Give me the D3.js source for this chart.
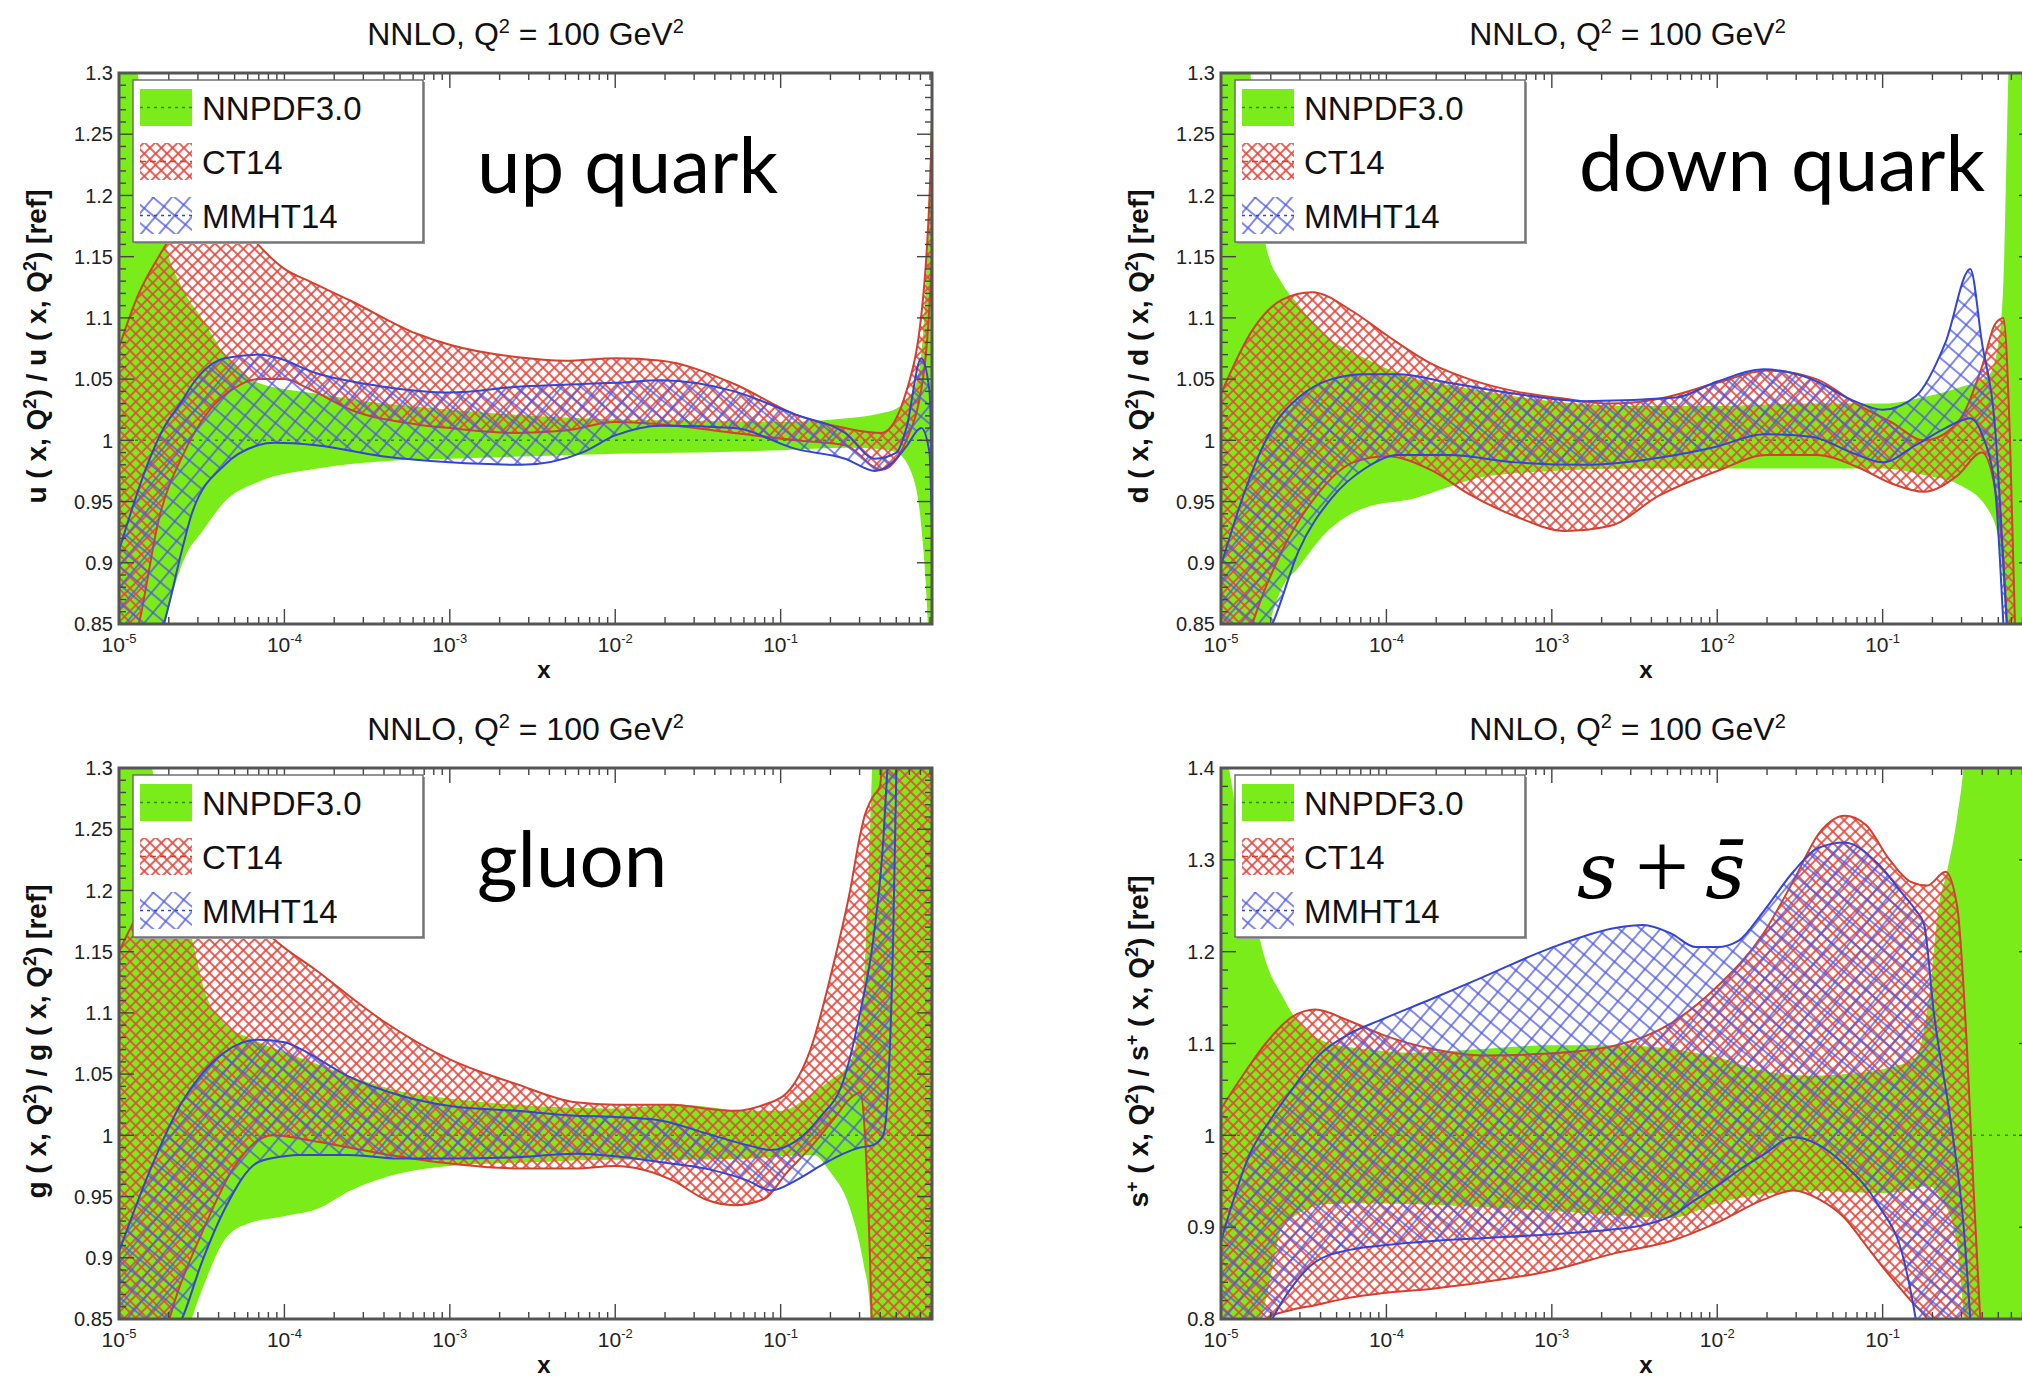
<!DOCTYPE html>
<html>
<head>
<meta charset="utf-8">
<title>NNLO PDF ratios, Q2 = 100 GeV2</title>
<script src="https://d3js.org/d3.v7.min.js"></script>
<style>
  body { margin: 0; background: #fff; }
  text { font-family: "Liberation Sans", Arial, sans-serif; white-space: pre; }
  .ytick { font-size: 20px; fill: #222; }
  .xtick { font-size: 21px; fill: #222; }
  .title { font-size: 32px; fill: #111; }
  .axis-title { font-size: 24px; font-weight: bold; fill: #111; }
  .ylab { font-size: 28px; font-weight: bold; fill: #111; }
  .legend-text { font-size: 33px; fill: #111; }
  .big { font-family: Lato, "Open Sans", sans-serif; font-size: 78px; fill: #000; }
</style>
</head>
<body>
<svg width="2022" height="1377"></svg>
<script>

// rows: [log10(x), lower edge, upper edge] of each uncertainty band

// ---- up quark
var upNNPDF = [
  [-5.00, 0.60, 1.45], [-4.85, 0.74, 1.26], [-4.72, 0.85, 1.16], [-4.60, 0.905, 1.12],
  [-4.50, 0.925, 1.10], [-4.36, 0.95, 1.07], [-4.16, 0.966, 1.047], [-3.80, 0.977, 1.038],
  [-3.40, 0.983, 1.030], [-3.00, 0.985, 1.025], [-2.50, 0.987, 1.020], [-2.00, 0.989, 1.017],
  [-1.50, 0.990, 1.016], [-1.00, 0.992, 1.015], [-0.60, 0.994, 1.018], [-0.40, 0.993, 1.022],
  [-0.30, 0.990, 1.026], [-0.20, 0.970, 1.040], [-0.15, 0.930, 1.070], [-0.11, 0.850, 1.170],
  [-0.085, 0.75, 1.30], [-0.07, 0.65, 1.40]
];
var upCT14 = [
  [-5.00, 0.80, 1.076], [-4.88, 0.85, 1.12], [-4.76, 0.935, 1.15], [-4.61, 0.989, 1.18],
  [-4.45, 1.025, 1.195], [-4.31, 1.042, 1.185], [-4.16, 1.050, 1.16], [-4.00, 1.050, 1.14],
  [-3.85, 1.042, 1.13], [-3.60, 1.025, 1.114], [-3.20, 1.013, 1.087], [-3.00, 1.010, 1.078],
  [-2.60, 1.006, 1.068], [-2.30, 1.008, 1.065], [-2.00, 1.015, 1.067], [-1.72, 1.013, 1.065],
  [-1.28, 1.006, 1.046], [-0.91, 1.000, 1.021], [-0.61, 0.996, 1.010], [-0.39, 0.976, 1.006],
  [-0.24, 1.000, 1.040], [-0.13, 1.060, 1.130], [-0.085, 1.15, 1.26], [-0.07, 1.20, 1.35]
];
var upMMHT = [
  [-5.00, 0.78, 0.91], [-4.82, 0.82, 0.983], [-4.73, 0.85, 1.01], [-4.62, 0.91, 1.032],
  [-4.56, 0.94, 1.045], [-4.36, 0.98, 1.067], [-4.16, 0.996, 1.07], [-4.06, 0.998, 1.068],
  [-3.81, 0.996, 1.055], [-3.41, 0.987, 1.044], [-3.00, 0.982, 1.039], [-2.57, 0.980, 1.044],
  [-2.20, 0.990, 1.046], [-2.00, 1.004, 1.047], [-1.72, 1.012, 1.049], [-1.28, 1.010, 1.040],
  [-0.91, 0.993, 1.021], [-0.61, 0.985, 1.006], [-0.43, 0.975, 0.985], [-0.30, 0.985, 0.990],
  [-0.24, 0.995, 1.010], [-0.15, 1.010, 1.067], [-0.10, 0.990, 1.040], [-0.085, 0.93, 0.97],
  [-0.07, 0.88, 0.92]
];

// ---- down quark
var downNNPDF = [
  [-5.00, 0.65, 1.60], [-4.85, 0.77, 1.35], [-4.73, 0.84, 1.16], [-4.63, 0.88, 1.128],
  [-4.54, 0.895, 1.112], [-4.37, 0.924, 1.086], [-4.13, 0.945, 1.067], [-3.82, 0.953, 1.050],
  [-3.62, 0.962, 1.045], [-3.42, 0.970, 1.040], [-3.00, 0.975, 1.032], [-2.50, 0.977, 1.028],
  [-2.00, 0.977, 1.028], [-1.50, 0.977, 1.030], [-1.00, 0.977, 1.030], [-0.73, 0.971, 1.036],
  [-0.54, 0.964, 1.043], [-0.36, 0.943, 1.053], [-0.30, 0.920, 1.080], [-0.27, 0.880, 1.130],
  [-0.24, 0.820, 1.30], [-0.20, 0.70, 1.50], [-0.12, 0.55, 1.80], [-0.04, 0.45, 2.00]
];
var downCT14 = [
  [-5.00, 0.75, 1.038], [-4.81, 0.85, 1.09], [-4.63, 0.91, 1.115], [-4.45, 0.95, 1.121],
  [-4.20, 0.982, 1.105], [-4.00, 0.987, 1.086], [-3.72, 0.975, 1.062], [-3.50, 0.956, 1.050],
  [-3.22, 0.938, 1.040], [-2.92, 0.926, 1.034], [-2.65, 0.930, 1.030], [-2.35, 0.955, 1.034],
  [-2.00, 0.975, 1.047], [-1.70, 0.988, 1.057], [-1.40, 0.988, 1.050], [-1.15, 0.978, 1.029],
  [-0.95, 0.965, 1.015], [-0.75, 0.958, 1.000], [-0.55, 0.971, 1.014], [-0.40, 0.990, 1.060],
  [-0.32, 0.960, 1.095], [-0.27, 0.900, 1.100], [-0.23, 0.800, 1.000], [-0.20, 0.70, 0.85]
];
var downMMHT = [
  [-5.00, 0.78, 0.898], [-4.83, 0.82, 0.968], [-4.69, 0.85, 1.01], [-4.53, 0.91, 1.035],
  [-4.33, 0.953, 1.050], [-4.13, 0.977, 1.054], [-3.93, 0.988, 1.054], [-3.62, 0.988, 1.047],
  [-3.22, 0.982, 1.038], [-2.81, 0.980, 1.032], [-2.25, 0.988, 1.035], [-2.00, 0.995, 1.048],
  [-1.72, 1.005, 1.058], [-1.43, 1.003, 1.050], [-1.17, 0.989, 1.032], [-1.00, 0.982, 1.025],
  [-0.80, 0.996, 1.036], [-0.62, 1.010, 1.080], [-0.47, 1.018, 1.140], [-0.40, 1.005, 1.080],
  [-0.32, 0.960, 1.010], [-0.27, 0.850, 0.900], [-0.23, 0.75, 0.80]
];

// ---- gluon
var gluonNNPDF = [
  [-5.00, 0.60, 1.50], [-4.80, 0.75, 1.30], [-4.62, 0.82, 1.19], [-4.56, 0.85, 1.161],
  [-4.48, 0.88, 1.117], [-4.36, 0.915, 1.091], [-4.22, 0.928, 1.080], [-4.00, 0.934, 1.068],
  [-3.80, 0.940, 1.058], [-3.60, 0.955, 1.048], [-3.30, 0.969, 1.036], [-3.00, 0.975, 1.030],
  [-2.50, 0.978, 1.024], [-2.00, 0.980, 1.022], [-1.60, 0.980, 1.025], [-1.20, 0.981, 1.020],
  [-1.00, 0.983, 1.020], [-0.80, 0.984, 1.035], [-0.70, 0.970, 1.045], [-0.58, 0.940, 1.060],
  [-0.50, 0.896, 1.120], [-0.46, 0.860, 1.250], [-0.44, 0.800, 1.330], [-0.40, 0.65, 1.50],
  [-0.30, 0.50, 1.70], [-0.15, 0.40, 1.90], [-0.04, 0.35, 2.00]
];
var gluonCT14 = [
  [-5.00, 0.72, 1.15], [-4.80, 0.80, 1.20], [-4.65, 0.87, 1.22], [-4.50, 0.92, 1.22],
  [-4.30, 0.975, 1.195], [-4.07, 1.000, 1.161], [-3.81, 0.995, 1.135], [-3.41, 0.985, 1.094],
  [-3.00, 0.977, 1.062], [-2.60, 0.973, 1.042], [-2.24, 0.973, 1.027], [-2.00, 0.975, 1.025],
  [-1.65, 0.963, 1.025], [-1.46, 0.948, 1.022], [-1.28, 0.943, 1.020], [-1.10, 0.948, 1.025],
  [-0.96, 0.970, 1.035], [-0.82, 0.990, 1.070], [-0.68, 1.013, 1.140], [-0.58, 1.030, 1.200],
  [-0.52, 1.035, 1.245], [-0.49, 1.000, 1.262], [-0.46, 0.900, 1.272], [-0.44, 0.800, 1.277],
  [-0.40, 0.60, 1.285], [-0.37, 0.50, 1.35], [-0.33, 0.45, 1.50], [-0.20, 0.40, 1.70],
  [-0.04, 0.35, 2.00]
];
var gluonMMHT = [
  [-5.00, 0.80, 0.905], [-4.82, 0.82, 0.969], [-4.62, 0.85, 1.027], [-4.50, 0.896, 1.050],
  [-4.36, 0.940, 1.068], [-4.16, 0.978, 1.078], [-4.00, 0.983, 1.076], [-3.91, 0.984, 1.071],
  [-3.61, 0.984, 1.048], [-3.31, 0.981, 1.033], [-3.00, 0.981, 1.024], [-2.60, 0.982, 1.020],
  [-2.24, 0.985, 1.016], [-2.00, 0.983, 1.015], [-1.72, 0.978, 1.012], [-1.46, 0.973, 1.002],
  [-1.20, 0.963, 0.992], [-1.06, 0.955, 0.988], [-0.91, 0.963, 0.995], [-0.76, 0.975, 1.015],
  [-0.62, 0.985, 1.045], [-0.52, 0.990, 1.100], [-0.44, 0.992, 1.160], [-0.38, 1.000, 1.240],
  [-0.35, 1.040, 1.310], [-0.32, 1.160, 1.40], [-0.30, 1.30, 1.50]
];

// ---- s + sbar
var strangeNNPDF = [
  [-5.00, 0.60, 1.45], [-4.92, 0.65, 1.366], [-4.83, 0.75, 1.269], [-4.73, 0.82, 1.19],
  [-4.63, 0.90, 1.152], [-4.57, 0.91, 1.133], [-4.37, 0.925, 1.102], [-4.13, 0.926, 1.094],
  [-3.82, 0.925, 1.090], [-3.42, 0.922, 1.094], [-3.02, 0.918, 1.098], [-2.61, 0.913, 1.098],
  [-2.28, 0.910, 1.094], [-2.00, 0.926, 1.085], [-1.72, 0.936, 1.070], [-1.43, 0.940, 1.065],
  [-1.20, 0.938, 1.067], [-1.00, 0.937, 1.072], [-0.80, 0.942, 1.085], [-0.72, 0.945, 1.150],
  [-0.66, 0.935, 1.250], [-0.61, 0.920, 1.288], [-0.55, 0.880, 1.346], [-0.51, 0.80, 1.404],
  [-0.45, 0.60, 1.60], [-0.30, 0.45, 1.80], [-0.04, 0.35, 2.00]
];
var strangeCT14 = [
  [-5.00, 0.70, 1.029], [-4.85, 0.76, 1.07], [-4.73, 0.80, 1.10], [-4.57, 0.81, 1.129],
  [-4.43, 0.815, 1.137], [-4.23, 0.823, 1.125], [-4.03, 0.828, 1.110], [-3.72, 0.833, 1.094],
  [-3.42, 0.840, 1.087], [-3.02, 0.852, 1.089], [-2.61, 0.872, 1.098], [-2.28, 0.885, 1.122],
  [-2.00, 0.905, 1.162], [-1.72, 0.930, 1.220], [-1.54, 0.940, 1.277], [-1.38, 0.930, 1.330],
  [-1.23, 0.910, 1.348], [-1.10, 0.880, 1.338], [-0.97, 0.850, 1.303], [-0.83, 0.820, 1.276],
  [-0.73, 0.800, 1.272], [-0.62, 0.760, 1.287], [-0.55, 0.70, 1.250], [-0.49, 0.65, 1.094],
  [-0.45, 0.60, 0.940], [-0.41, 0.55, 0.800]
];
var strangeMMHT = [
  [-5.00, 0.70, 0.885], [-4.83, 0.74, 0.978], [-4.69, 0.80, 1.020], [-4.55, 0.84, 1.055],
  [-4.43, 0.862, 1.083], [-4.23, 0.875, 1.110], [-4.03, 0.880, 1.126], [-3.72, 0.885, 1.149],
  [-3.42, 0.888, 1.172], [-3.02, 0.892, 1.203], [-2.61, 0.898, 1.226], [-2.45, 0.902, 1.229],
  [-2.28, 0.912, 1.220], [-2.13, 0.930, 1.205], [-2.00, 0.945, 1.205], [-1.87, 0.962, 1.212],
  [-1.72, 0.979, 1.244], [-1.54, 0.998, 1.287], [-1.39, 0.990, 1.313], [-1.23, 0.968, 1.319],
  [-1.03, 0.925, 1.296], [-0.87, 0.863, 1.261], [-0.80, 0.800, 1.245], [-0.75, 0.74, 1.230],
  [-0.69, 0.68, 1.133], [-0.59, 0.60, 1.017], [-0.51, 0.55, 0.900], [-0.47, 0.50, 0.800]
];

// reference set is NNPDF3.0, so its central ratio is 1
var refRatio = 1;

// tick labels
var yTicksQuark = [0.85, 0.9, 0.95, 1, 1.05, 1.1, 1.15, 1.2, 1.25, 1.3];
var yTicksStrange = [0.8, 0.9, 1, 1.1, 1.2, 1.3, 1.4];
var xTickExps = [-5, -4, -3, -2, -1];
var legendNames = ["NNPDF3.0", "CT14", "MMHT14"];

var GREEN = "#7aec1a", GREEN_DARK = "#2f8c18",
    RED = "#e5483e", RED_LINE = "#d2402f",
    BLUE = "#4b56e6", BLUE_LINE = "#3444d4";

var svg = d3.select("svg");
var PW = 813, PH = 551;
var X_MAX = Math.pow(10, -0.085);

var defs = svg.append("defs");

var ctPat = defs.append("pattern").attr("id", "ct14Hatch")
    .attr("patternUnits", "userSpaceOnUse").attr("width", 8).attr("height", 8)
    .attr("patternTransform", "rotate(45)");
ctPat.append("line").attr("x1", 0).attr("y1", 4).attr("x2", 8).attr("y2", 4)
    .attr("stroke", RED).attr("stroke-width", 1.7);
ctPat.append("line").attr("x1", 4).attr("y1", 0).attr("x2", 4).attr("y2", 8)
    .attr("stroke", RED).attr("stroke-width", 1.7);

var mmPat = defs.append("pattern").attr("id", "mmhtHatch")
    .attr("patternUnits", "userSpaceOnUse").attr("width", 14).attr("height", 14)
    .attr("patternTransform", "rotate(40)");
mmPat.append("line").attr("x1", 0).attr("y1", 7).attr("x2", 14).attr("y2", 7)
    .attr("stroke", BLUE).attr("stroke-width", 1.4);
mmPat.append("line").attr("x1", 7).attr("y1", 0).attr("x2", 7).attr("y2", 14)
    .attr("stroke", BLUE).attr("stroke-width", 1.4);

// text with superscripts: parts = [[string, isSup], ...]
function rich(sel, parts, supSize, rise) {
    var up = false;
    parts.forEach(function(p) {
        var t = sel.append("tspan").text(p[0]);
        if (p[1] && !up) t.attr("dy", -rise);
        if (!p[1] && up) t.attr("dy", rise);
        if (p[1]) t.style("font-size", supSize + "px");
        up = !!p[1];
    });
}

function ylabelParts(sym, plus) {
    var s = plus ? [[sym, 0], ["+", 1]] : [[sym, 0]];
    return s.concat([[" ( x, Q", 0], ["2", 1], [") / ", 0]], s,
                    [[" ( x, Q", 0], ["2", 1], [") [ref]", 0]]);
}

var panels = [
    {x0: 119, y0: 73, bands: [upNNPDF, upCT14, upMMHT], yDomain: [0.85, 1.3],
     yTicks: yTicksQuark, minor: 0.01, sym: "u", plus: false, label: "up quark", ly: 120},
    {x0: 1221, y0: 73, bands: [downNNPDF, downCT14, downMMHT], yDomain: [0.85, 1.3],
     yTicks: yTicksQuark, minor: 0.01, sym: "d", plus: false, label: "down quark", ly: 118},
    {x0: 119, y0: 768, bands: [gluonNNPDF, gluonCT14, gluonMMHT], yDomain: [0.85, 1.3],
     yTicks: yTicksQuark, minor: 0.01, sym: "g", plus: false, label: "gluon", ly: 119},
    {x0: 1221, y0: 768, bands: [strangeNNPDF, strangeCT14, strangeMMHT], yDomain: [0.8, 1.4],
     yTicks: yTicksStrange, minor: 0.02, sym: "s", plus: true, label: null, ly: 130}
];

panels.forEach(function(p, idx) {
    var x = d3.scaleLog().domain([1e-5, X_MAX]).range([p.x0, p.x0 + PW]);
    var y = d3.scaleLinear().domain(p.yDomain).range([p.y0 + PH, p.y0]);
    var g = svg.append("g");

    defs.append("clipPath").attr("id", "clip" + idx).append("rect")
        .attr("x", p.x0).attr("y", p.y0).attr("width", PW).attr("height", PH);
    var plot = g.append("g").attr("clip-path", "url(#clip" + idx + ")");

    var px = function(d) { return x(Math.pow(10, d[0])); };
    var area = d3.area().x(px).y0(function(d) { return y(d[1]); })
        .y1(function(d) { return y(d[2]); }).curve(d3.curveMonotoneX);
    var lo = d3.line().x(px).y(function(d) { return y(d[1]); }).curve(d3.curveMonotoneX);
    var hi = d3.line().x(px).y(function(d) { return y(d[2]); }).curve(d3.curveMonotoneX);

    // NNPDF3.0: solid band
    plot.append("path").datum(p.bands[0]).attr("d", area).attr("fill", GREEN);
    plot.append("line")
        .attr("x1", x(1e-5)).attr("x2", x(X_MAX))
        .attr("y1", y(refRatio)).attr("y2", y(refRatio))
        .attr("stroke", GREEN_DARK).attr("stroke-width", 1.5).attr("stroke-dasharray", "3,5");

    // CT14 and MMHT14: hatched bands with edges
    [[p.bands[1], "ct14Hatch", RED_LINE], [p.bands[2], "mmhtHatch", BLUE_LINE]].forEach(function(b) {
        plot.append("path").datum(b[0]).attr("d", area).attr("fill", "url(#" + b[1] + ")");
        plot.append("path").datum(b[0]).attr("d", lo).attr("fill", "none")
            .attr("stroke", b[2]).attr("stroke-width", 2);
        plot.append("path").datum(b[0]).attr("d", hi).attr("fill", "none")
            .attr("stroke", b[2]).attr("stroke-width", 2);
    });

    // frame and inner ticks
    var x1 = p.x0 + PW, y1 = p.y0 + PH;
    var ticks = g.append("g").attr("stroke", "#444").attr("stroke-width", 1.4);
    x.ticks().filter(function(t) { return t >= 1e-5 && t <= X_MAX; }).forEach(function(t) {
        var lg = Math.log10(t);
        var len = Math.abs(lg - Math.round(lg)) < 1e-6 ? 15 : 7;
        ticks.append("line").attr("x1", x(t)).attr("x2", x(t)).attr("y1", y1).attr("y2", y1 - len);
        ticks.append("line").attr("x1", x(t)).attr("x2", x(t)).attr("y1", p.y0).attr("y2", p.y0 + len);
    });
    d3.range(p.yDomain[0], p.yDomain[1] + 1e-9, p.minor).forEach(function(v) {
        var major = p.yTicks.some(function(t) { return Math.abs(t - v) < 1e-6; });
        var len = major ? 15 : 7;
        ticks.append("line").attr("x1", p.x0).attr("x2", p.x0 + len).attr("y1", y(v)).attr("y2", y(v));
        ticks.append("line").attr("x1", x1).attr("x2", x1 - len).attr("y1", y(v)).attr("y2", y(v));
    });
    g.append("rect").attr("x", p.x0).attr("y", p.y0).attr("width", PW).attr("height", PH)
        .attr("fill", "none").attr("stroke", "#555").attr("stroke-width", 3);

    // tick labels
    p.yTicks.forEach(function(v) {
        g.append("text").attr("class", "ytick").attr("x", p.x0 - 6).attr("y", y(v))
            .attr("dy", "0.36em").attr("text-anchor", "end").text(String(+v.toFixed(2)));
    });
    xTickExps.forEach(function(e) {
        var t = g.append("text").attr("class", "xtick").attr("x", x(Math.pow(10, e)))
            .attr("y", y1 + 28).attr("text-anchor", "middle");
        rich(t, [["10", 0], [String(e), 1]], 13, 9);
    });

    // titles
    var title = g.append("text").attr("class", "title")
        .attr("x", p.x0 + PW / 2).attr("y", p.y0 - 28).attr("text-anchor", "middle");
    rich(title, [["NNLO, Q", 0], ["2", 1], [" = 100 GeV", 0], ["2", 1]], 20, 12);

    g.append("text").attr("class", "axis-title").attr("x", p.x0 + 425).attr("y", y1 + 54)
        .attr("text-anchor", "middle").text("x");

    var yl = g.append("text").attr("class", "ylab").attr("text-anchor", "middle")
        .attr("transform", "translate(" + (p.x0 - 73) + "," + (p.y0 + PH / 2 - 2) + ") rotate(-90)");
    rich(yl, ylabelParts(p.sym, p.plus), 18, 10);

    // legend
    var lg = g.append("g").attr("transform", "translate(" + (p.x0 + 14) + "," + (p.y0 + 7) + ")");
    lg.append("rect").attr("x", 2).attr("y", 2).attr("width", 290).attr("height", 162).attr("fill", "#999");
    lg.append("rect").attr("width", 290).attr("height", 162).attr("fill", "#fff")
        .attr("stroke", "#666").attr("stroke-width", 1.4);
    legendNames.forEach(function(name, i) {
        var sy = 9 + i * 54;
        var fill = i === 0 ? GREEN : (i === 1 ? "url(#ct14Hatch)" : "url(#mmhtHatch)");
        var col = i === 0 ? GREEN_DARK : (i === 1 ? RED_LINE : BLUE_LINE);
        lg.append("rect").attr("x", 7).attr("y", sy).attr("width", 52).attr("height", 37).attr("fill", fill);
        lg.append("line").attr("x1", 7).attr("x2", 59).attr("y1", sy + 18.5).attr("y2", sy + 18.5)
            .attr("stroke", col).attr("stroke-width", 1.5).attr("stroke-dasharray", i === 1 ? "6,4" : "3,4");
        lg.append("text").attr("class", "legend-text").attr("x", 69).attr("y", 40 + i * 54).text(name);
    });

    // big annotation
    if (p.label) {
        g.append("text").attr("class", "big").attr("x", p.x0 + 358).attr("y", p.y0 + p.ly).text(p.label);
    } else {
        var st = g.append("text").attr("x", p.x0 + 356).attr("y", p.y0 + p.ly)
            .style("font-family", "'DejaVu Serif', serif").style("font-size", "78px");
        st.append("tspan").style("font-style", "italic").text("s");
        st.append("tspan").attr("dx", 18).style("font-family", "'Liberation Serif', serif")
            .style("font-size", "96px").text("+");
        st.append("tspan").attr("dx", 16).style("font-style", "italic").text("s\u0304");
    }
});

</script>
</body>
</html>
